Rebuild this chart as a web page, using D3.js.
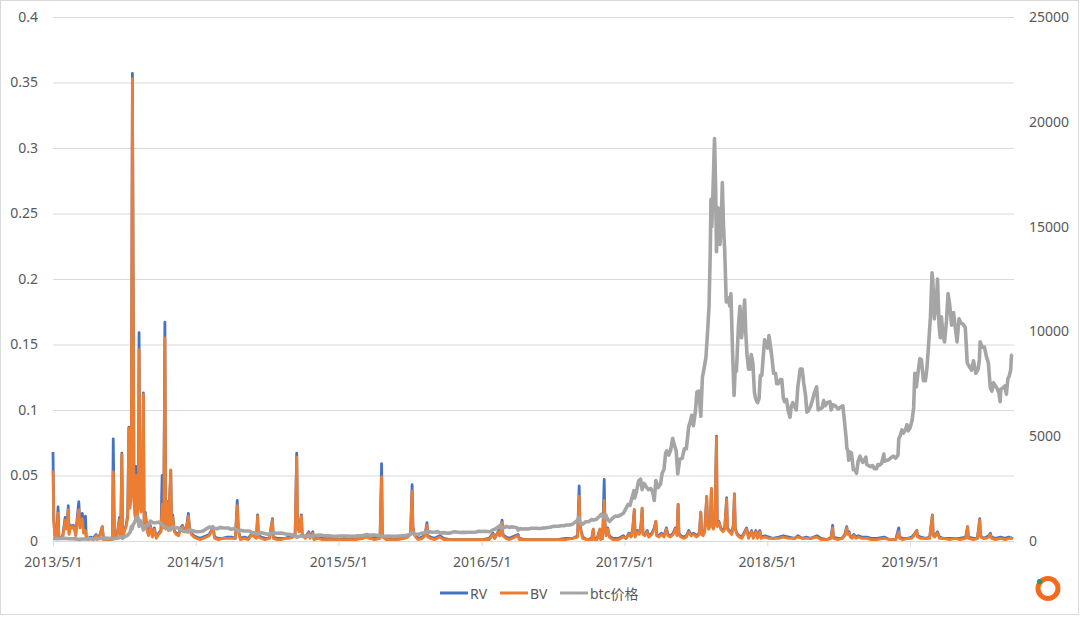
<!DOCTYPE html>
<html><head><meta charset="utf-8">
<script src="https://cdn.jsdelivr.net/npm/d3@7"></script>
<style>
body{margin:0;background:#fff;}
text{font-family:"Noto Sans","Noto Sans CJK SC",sans-serif;}
</style>
</head><body>
<svg id="chart" width="1080" height="617"></svg>
<script>
const seriesNames = ["RV", "BV", "btc价格"];
const seriesColors = ["#4472C4", "#ED7D31", "#A5A5A5"];
const leftTicks = [0, 0.05, 0.1, 0.15, 0.2, 0.25, 0.3, 0.35, 0.4];
const rightTicks = [0, 5000, 10000, 15000, 20000, 25000];
const xTickDates = ["2013-05-01","2014-05-01","2015-05-01","2016-05-01","2017-05-01","2018-05-01","2019-05-01"];

const priceDates = [
"2013-05-01","2013-05-08","2013-05-15","2013-05-22","2013-05-29","2013-06-05","2013-06-12","2013-06-19","2013-06-26","2013-07-03",
"2013-07-06","2013-07-10","2013-07-17","2013-07-24","2013-07-31","2013-08-07","2013-08-14","2013-08-21","2013-08-28","2013-09-04",
"2013-09-11","2013-09-18","2013-09-25","2013-10-02","2013-10-09","2013-10-16","2013-10-23","2013-10-30","2013-11-06","2013-11-10",
"2013-11-14","2013-11-18","2013-11-19","2013-11-22","2013-11-26","2013-11-30","2013-12-04","2013-12-07","2013-12-10","2013-12-14",
"2013-12-18","2013-12-22","2013-12-27","2013-12-31",
"2014-01-05","2014-01-12","2014-01-19","2014-01-26","2014-02-02","2014-02-09","2014-02-16","2014-02-25","2014-03-02","2014-03-09",
"2014-03-16","2014-03-23","2014-03-30","2014-04-06","2014-04-11","2014-04-16","2014-04-23","2014-04-30","2014-05-07","2014-05-14",
"2014-05-21","2014-05-28","2014-06-04","2014-06-11","2014-06-18","2014-06-25","2014-07-02","2014-07-09","2014-07-16","2014-07-23",
"2014-07-30","2014-08-06","2014-08-13","2014-08-18","2014-08-25","2014-09-01","2014-09-08","2014-09-15","2014-09-22","2014-09-29",
"2014-10-05","2014-10-12","2014-10-19","2014-10-26","2014-11-02","2014-11-09","2014-11-16","2014-11-23","2014-11-30","2014-12-07",
"2014-12-14","2014-12-21","2014-12-28",
"2015-01-04","2015-01-11","2015-01-14","2015-01-18","2015-01-25","2015-02-01","2015-02-08","2015-02-15","2015-02-22","2015-03-01",
"2015-03-08","2015-03-15","2015-03-22","2015-03-29","2015-04-05","2015-04-12","2015-04-19","2015-04-26","2015-05-03","2015-05-10",
"2015-05-17","2015-05-24","2015-05-31","2015-06-07","2015-06-14","2015-06-21","2015-06-28","2015-07-05","2015-07-12","2015-07-19",
"2015-07-26","2015-08-02","2015-08-09","2015-08-16","2015-08-23","2015-08-30","2015-09-06","2015-09-13","2015-09-20","2015-09-27",
"2015-10-04","2015-10-11","2015-10-18","2015-10-25","2015-11-01","2015-11-04","2015-11-08","2015-11-11","2015-11-15","2015-11-22",
"2015-11-29","2015-12-06","2015-12-13","2015-12-20","2015-12-27",
"2016-01-03","2016-01-10","2016-01-15","2016-01-24","2016-01-31","2016-02-07","2016-02-14","2016-02-21","2016-02-28","2016-03-06",
"2016-03-13","2016-03-20","2016-03-27","2016-04-03","2016-04-10","2016-04-17","2016-04-24","2016-05-01","2016-05-08","2016-05-15",
"2016-05-22","2016-05-29","2016-06-05","2016-06-12","2016-06-17","2016-06-22","2016-06-26","2016-07-03","2016-07-10","2016-07-17",
"2016-07-24","2016-07-31","2016-08-02","2016-08-07","2016-08-14","2016-08-21","2016-08-28","2016-09-04","2016-09-11","2016-09-18",
"2016-09-25","2016-10-02","2016-10-09","2016-10-16","2016-10-23","2016-10-30","2016-11-06","2016-11-13","2016-11-20","2016-11-27",
"2016-12-04","2016-12-11","2016-12-18","2016-12-25","2016-12-31",
"2017-01-04","2017-01-07","2017-01-11","2017-01-15","2017-01-22","2017-01-29","2017-02-05","2017-02-12","2017-02-19","2017-02-26",
"2017-03-03","2017-03-10","2017-03-14","2017-03-19","2017-03-24","2017-03-31","2017-04-07","2017-04-14","2017-04-21","2017-04-28",
"2017-05-04","2017-05-10","2017-05-15","2017-05-20","2017-05-25","2017-05-27","2017-06-01","2017-06-06","2017-06-11","2017-06-15",
"2017-06-20","2017-06-25","2017-07-01","2017-07-07","2017-07-12","2017-07-16","2017-07-20","2017-07-26","2017-08-01","2017-08-05",
"2017-08-10","2017-08-14","2017-08-17","2017-08-22","2017-08-27","2017-09-01","2017-09-05","2017-09-10","2017-09-14","2017-09-19",
"2017-09-25","2017-10-01","2017-10-06","2017-10-12","2017-10-16","2017-10-20","2017-10-24","2017-10-29","2017-11-02","2017-11-07",
"2017-11-12","2017-11-16","2017-11-20","2017-11-25","2017-11-29","2017-12-03","2017-12-06","2017-12-08","2017-12-10","2017-12-13",
"2017-12-17","2017-12-20","2017-12-22","2017-12-26","2017-12-29","2017-12-31",
"2018-01-03","2018-01-06","2018-01-09","2018-01-12","2018-01-16","2018-01-18","2018-01-21","2018-01-25","2018-01-28","2018-02-01",
"2018-02-05","2018-02-08","2018-02-11","2018-02-16","2018-02-20","2018-02-24","2018-02-28","2018-03-04","2018-03-07","2018-03-10",
"2018-03-14","2018-03-18","2018-03-21","2018-03-25","2018-03-29","2018-04-01","2018-04-06","2018-04-10","2018-04-13","2018-04-17",
"2018-04-21","2018-04-24","2018-04-28","2018-05-02","2018-05-05","2018-05-09","2018-05-13","2018-05-17","2018-05-22","2018-05-25",
"2018-05-29","2018-06-03","2018-06-07","2018-06-11","2018-06-14","2018-06-19","2018-06-24","2018-06-28","2018-07-01","2018-07-05",
"2018-07-10","2018-07-14","2018-07-18","2018-07-24","2018-07-29","2018-08-02","2018-08-07","2018-08-10","2018-08-14","2018-08-19",
"2018-08-24","2018-08-29","2018-09-04","2018-09-08","2018-09-12","2018-09-18","2018-09-22","2018-09-26","2018-10-01","2018-10-08",
"2018-10-11","2018-10-16","2018-10-22","2018-10-29","2018-11-05","2018-11-10","2018-11-14","2018-11-19","2018-11-20","2018-11-23",
"2018-11-25","2018-11-28","2018-12-02","2018-12-07","2018-12-11","2018-12-15","2018-12-19","2018-12-24","2018-12-28","2018-12-31",
"2019-01-04","2019-01-08","2019-01-10","2019-01-15","2019-01-20","2019-01-25","2019-01-30","2019-02-04","2019-02-08","2019-02-12",
"2019-02-17","2019-02-23","2019-02-24","2019-03-01","2019-03-05","2019-03-10","2019-03-15","2019-03-20","2019-03-25","2019-03-31",
"2019-04-02","2019-04-06","2019-04-10","2019-04-14","2019-04-19","2019-04-23","2019-04-26","2019-05-01","2019-05-06","2019-05-10",
"2019-05-13","2019-05-17","2019-05-21","2019-05-26","2019-05-30","2019-06-04","2019-06-09","2019-06-13","2019-06-17","2019-06-22",
"2019-06-26","2019-06-28","2019-07-02","2019-07-07","2019-07-10","2019-07-14","2019-07-17","2019-07-20","2019-07-24","2019-07-28",
"2019-08-02","2019-08-06","2019-08-10","2019-08-15","2019-08-20","2019-08-25","2019-08-29","2019-09-03","2019-09-08","2019-09-13",
"2019-09-19","2019-09-24","2019-09-30","2019-10-05","2019-10-10","2019-10-16","2019-10-22","2019-10-25","2019-10-27","2019-11-01",
"2019-11-07","2019-11-12","2019-11-17","2019-11-22","2019-11-26","2019-11-30","2019-12-05","2019-12-10","2019-12-14","2019-12-17",
"2019-12-19","2019-12-24","2019-12-29","2020-01-02","2020-01-06","2020-01-09","2020-01-13","2020-01-15","2020-01-18"
];
const priceValues = [
117,112,114,123,129,121,109,107,103,89,
68,88,97,95,106,106,97,120,129,121,
138,127,123,104,125,147,195,197,260,320,
420,700,570,780,900,1130,1150,700,980,870,
520,660,740,760,
950,870,870,900,820,680,630,530,660,630,
630,560,470,460,420,530,490,450,440,450,
490,580,660,650,610,580,650,620,620,620,
560,590,540,470,510,480,475,475,400,375,
320,390,380,350,325,360,390,370,380,375,
350,320,315,
275,270,180,210,255,225,225,235,240,260,
275,285,265,245,255,235,225,220,240,240,
237,240,230,225,233,245,250,270,310,275,
290,280,265,260,230,230,240,230,230,232,
238,246,262,285,325,400,375,310,320,323,
370,390,435,440,420,
430,448,375,400,378,375,410,438,430,405,
415,410,420,420,420,430,460,450,460,455,
440,530,575,675,750,590,630,700,650,675,
660,620,520,590,570,580,575,610,605,610,
600,612,618,640,655,700,705,705,730,730,
765,770,790,890,960,
1130,900,780,820,920,915,1020,1000,1050,1180,
1280,1100,1245,1020,940,1080,1190,1180,1240,1320,
1530,1750,1700,2050,2400,2050,2400,2870,2950,2450,
2750,2600,2450,2500,2330,1930,2880,2550,2720,3220,
3420,4200,4300,4100,4350,4900,4600,4300,3200,3900,
3930,4400,4400,5440,5700,6000,5500,6150,7100,7150,
5950,7800,8200,8750,9900,11200,13700,16300,15000,16600,
19200,16700,13800,15900,14600,14150,
15200,17100,15000,13900,11400,11500,11600,11200,11800,9100,
6950,8250,8100,10200,11200,9700,10400,11500,9900,8900,
8200,8200,8900,8500,7100,6800,6600,6800,7900,7900,
8900,9600,9400,9200,9800,9300,8700,8000,8000,7500,
7500,7700,7700,6800,6650,6750,6150,5900,6400,6600,
6400,6250,7350,8200,8200,7550,6900,6150,6200,6400,
6700,7050,7350,6250,6300,6350,6700,6450,6600,6650,
6250,6500,6450,6300,6400,6450,5750,4800,4450,4300,
3850,4250,4200,3400,3400,3230,3800,4050,3850,3750,
3850,4000,3650,3600,3550,3600,3450,3450,3650,3620,
3700,4150,3800,3850,3850,3920,4000,4050,3950,4100,
4880,5050,5300,5150,5300,5550,5250,5400,5750,6350,
8000,7350,8000,8700,8650,7650,7650,8250,9300,10700,
12800,12400,10600,11400,12500,10300,9700,10700,9800,9500,
10500,11800,11300,10300,10900,10100,9500,10600,10400,10350,
10200,8500,8300,8150,8600,8000,8200,8650,9500,9250,
9250,8800,8500,7300,7150,7550,7400,7250,7050,6650,
7250,7300,7400,7000,7750,7850,8150,8850,8900
];

const volDates = [
"2013-05-01","2013-05-03","2013-05-06","2013-05-10","2013-05-14","2013-05-16","2013-05-20","2013-05-26","2013-06-01","2013-06-03",
"2013-06-06","2013-06-09","2013-06-11","2013-06-15","2013-06-19","2013-06-22","2013-06-25","2013-06-28","2013-07-02","2013-07-06",
"2013-07-09","2013-07-12","2013-07-15","2013-07-18","2013-07-23","2013-07-25","2013-07-30","2013-08-05","2013-08-12","2013-08-19",
"2013-08-22","2013-08-28","2013-09-04","2013-09-07","2013-09-15","2013-09-22","2013-09-30","2013-10-02","2013-10-05","2013-10-12",
"2013-10-18","2013-10-21","2013-10-24","2013-10-26","2013-10-30","2013-11-04","2013-11-08","2013-11-11","2013-11-14","2013-11-17",
"2013-11-20","2013-11-24","2013-11-27","2013-11-29","2013-12-02","2013-12-05","2013-12-07","2013-12-09","2013-12-12","2013-12-15",
"2013-12-18","2013-12-20","2013-12-23","2013-12-27","2013-12-31",
"2014-01-05","2014-01-10","2014-01-15","2014-01-20","2014-01-26","2014-02-01","2014-02-04","2014-02-06","2014-02-08","2014-02-11",
"2014-02-13","2014-02-17","2014-02-20","2014-02-26","2014-02-28","2014-03-03","2014-03-07","2014-03-12","2014-03-18","2014-03-23",
"2014-03-28","2014-04-02","2014-04-07","2014-04-12","2014-04-15","2014-04-20","2014-04-26","2014-05-03","2014-05-12","2014-05-20",
"2014-05-28","2014-06-04","2014-06-10","2014-06-14","2014-06-18","2014-06-28","2014-07-08","2014-07-20","2014-08-01","2014-08-10",
"2014-08-15","2014-08-18","2014-08-23","2014-09-02","2014-09-12","2014-09-22","2014-09-28","2014-10-03","2014-10-06","2014-10-08",
"2014-10-16","2014-10-25","2014-11-05","2014-11-13","2014-11-15","2014-11-25","2014-12-05","2014-12-15","2014-12-25",
"2015-01-05","2015-01-10","2015-01-14","2015-01-16","2015-01-20","2015-01-26","2015-01-28","2015-02-05","2015-02-14","2015-02-17",
"2015-02-24","2015-02-27","2015-03-10","2015-03-20","2015-04-01","2015-04-15","2015-05-01","2015-05-15","2015-06-01","2015-06-15",
"2015-07-01","2015-07-10","2015-07-20","2015-08-01","2015-08-15","2015-08-19","2015-08-21","2015-09-01","2015-09-15","2015-10-01",
"2015-10-15","2015-10-25","2015-11-01","2015-11-05","2015-11-07","2015-11-10","2015-11-14","2015-11-20","2015-12-01","2015-12-08",
"2015-12-13","2015-12-15","2015-12-22",
"2016-01-01","2016-01-15","2016-01-25","2016-02-10","2016-03-01","2016-03-20","2016-04-10","2016-05-01","2016-05-20","2016-05-30",
"2016-06-03","2016-06-13","2016-06-16","2016-06-22","2016-06-24","2016-07-02","2016-07-10","2016-08-02","2016-08-05","2016-08-20",
"2016-09-10","2016-10-01","2016-10-20","2016-11-10","2016-12-01","2016-12-20",
"2017-01-01","2017-01-05","2017-01-07","2017-01-10","2017-01-14","2017-01-25","2017-02-06","2017-02-10","2017-02-12","2017-02-20",
"2017-02-27","2017-03-01","2017-03-06","2017-03-10","2017-03-12","2017-03-15","2017-03-19","2017-03-23","2017-04-01","2017-04-15",
"2017-04-28","2017-05-05","2017-05-12","2017-05-18","2017-05-22","2017-05-26","2017-05-28","2017-06-03","2017-06-08","2017-06-12",
"2017-06-15","2017-06-17","2017-06-22","2017-06-28","2017-07-02","2017-07-10","2017-07-16","2017-07-20","2017-07-22","2017-07-28",
"2017-08-03","2017-08-10","2017-08-16","2017-08-20","2017-08-26","2017-09-02","2017-09-08","2017-09-12","2017-09-15","2017-09-17",
"2017-09-22","2017-09-30","2017-10-06","2017-10-12","2017-10-18","2017-10-25","2017-11-01","2017-11-08","2017-11-12","2017-11-14",
"2017-11-18","2017-11-22","2017-11-27","2017-11-29","2017-12-02","2017-12-06","2017-12-09","2017-12-11","2017-12-14","2017-12-18",
"2017-12-22","2017-12-24","2017-12-28",
"2018-01-02","2018-01-08","2018-01-12","2018-01-17","2018-01-19","2018-01-24","2018-01-30","2018-02-03","2018-02-06","2018-02-08",
"2018-02-12","2018-02-18","2018-02-25","2018-03-09","2018-03-14","2018-03-22","2018-03-26","2018-04-02","2018-04-06","2018-04-12",
"2018-04-15","2018-04-25","2018-05-05","2018-05-15","2018-05-30","2018-06-11","2018-06-25","2018-07-10","2018-07-18","2018-07-30",
"2018-08-08","2018-08-20","2018-09-05","2018-09-15","2018-10-01","2018-10-11","2018-10-15","2018-10-17","2018-10-28","2018-11-08",
"2018-11-15","2018-11-20","2018-11-22","2018-11-26","2018-11-29","2018-12-04","2018-12-08","2018-12-14","2018-12-20","2018-12-28",
"2019-01-10","2019-01-22","2019-02-05","2019-02-24","2019-03-10","2019-03-25","2019-04-02","2019-04-04","2019-04-12","2019-04-25",
"2019-05-05","2019-05-11","2019-05-18","2019-05-20","2019-05-28","2019-06-10","2019-06-20","2019-06-27","2019-06-29","2019-07-03",
"2019-07-10","2019-07-15","2019-07-25","2019-08-10","2019-08-25","2019-09-05","2019-09-20","2019-09-25","2019-09-27","2019-10-10",
"2019-10-20","2019-10-26","2019-10-28","2019-11-05","2019-11-12","2019-11-18","2019-11-22","2019-11-25","2019-12-05","2019-12-18",
"2019-12-30","2020-01-08","2020-01-15","2020-01-18"
];
const rvValues = [
.068,.016,.004,.003,.026,.003,.002,.004,.018,.010,
.012,.027,.006,.012,.011,.012,.010,.005,.018,.030,
.011,.016,.021,.008,.019,.003,.002,.003,.002,.005,
.002,.004,.011,.002,.002,.001,.002,.078,.003,.005,
.018,.004,.067,.002,.008,.012,.020,.087,.030,.040,
.357,.035,.020,.057,.020,.030,.159,.040,.025,.030,
.113,.015,.022,.010,.005,
.012,.004,.010,.003,.006,.008,.050,.025,.012,.167,
.010,.030,.010,.054,.012,.020,.008,.006,.005,.010,
.012,.008,.010,.021,.010,.006,.004,.003,.002,.003,
.004,.005,.008,.011,.003,.002,.002,.003,.003,.002,
.031,.008,.002,.003,.002,.006,.004,.003,.020,.004,
.003,.002,.002,.017,.003,.002,.002,.002,.003,
.004,.006,.067,.012,.008,.020,.005,.003,.007,.003,
.007,.002,.003,.002,.002,.002,.001,.002,.001,.002,
.002,.004,.002,.002,.003,.059,.004,.002,.002,.002,
.002,.004,.006,.043,.011,.006,.004,.002,.003,.005,
.014,.004,.003,
.002,.004,.002,.001,.001,.001,.001,.001,.002,.006,
.002,.008,.004,.016,.005,.003,.002,.005,.002,.001,
.001,.001,.001,.001,.002,.002,
.004,.042,.013,.008,.003,.001,.002,.009,.002,.002,
.009,.002,.002,.047,.013,.005,.010,.004,.002,.002,
.004,.002,.006,.004,.010,.024,.004,.008,.006,.012,
.025,.006,.005,.008,.004,.006,.010,.015,.005,.004,
.006,.004,.010,.005,.004,.006,.010,.005,.028,.006,
.004,.003,.004,.008,.005,.006,.004,.006,.022,.006,
.005,.008,.034,.015,.010,.012,.040,.014,.010,.015,
.080,.012,.015,
.010,.008,.010,.033,.010,.008,.006,.012,.036,.010,
.006,.004,.003,.010,.003,.008,.003,.008,.003,.008,
.003,.004,.003,.002,.003,.004,.003,.002,.004,.002,
.003,.002,.004,.002,.001,.003,.012,.003,.002,.002,
.005,.011,.006,.007,.004,.003,.005,.003,.004,.003,
.003,.002,.002,.003,.001,.001,.010,.003,.002,.002,
.003,.005,.008,.004,.003,.002,.003,.020,.005,.004,
.007,.003,.002,.002,.002,.002,.003,.011,.003,.002,
.002,.017,.004,.002,.003,.004,.006,.003,.002,.003,
.002,.003,.002,.003
];
const bvValues = [
.054,.015,.003,.002,.021,.002,.002,.003,.016,.009,
.011,.024,.005,.011,.010,.011,.009,.004,.015,.024,
.010,.014,.017,.006,.008,.002,.001,.002,.001,.004,
.001,.003,.011,.001,.001,.001,.001,.053,.002,.004,
.016,.003,.066,.002,.007,.011,.018,.086,.025,.035,
.353,.030,.018,.050,.018,.026,.146,.035,.022,.027,
.112,.013,.020,.009,.004,
.011,.003,.009,.002,.005,.007,.028,.022,.010,.155,
.009,.029,.008,.054,.010,.018,.007,.005,.004,.009,
.011,.007,.009,.019,.009,.005,.003,.002,.001,.002,
.003,.004,.007,.010,.002,.001,.002,.002,.002,.002,
.027,.007,.001,.002,.001,.005,.003,.002,.019,.003,
.002,.001,.002,.016,.002,.001,.001,.002,.002,
.003,.005,.064,.011,.007,.019,.004,.002,.006,.002,
.006,.001,.002,.001,.001,.001,.001,.001,.001,.001,
.002,.003,.002,.001,.002,.049,.003,.001,.001,.001,
.002,.003,.005,.038,.010,.005,.003,.001,.002,.004,
.012,.003,.002,
.001,.003,.001,.001,.001,.001,.001,.001,.001,.005,
.002,.007,.004,.014,.004,.002,.001,.004,.001,.001,
.001,.001,.001,.001,.001,.002,
.003,.034,.011,.007,.002,.001,.001,.009,.001,.001,
.009,.001,.002,.031,.012,.004,.009,.003,.001,.001,
.003,.002,.005,.003,.009,.024,.003,.007,.005,.011,
.025,.005,.004,.007,.003,.005,.009,.015,.004,.003,
.005,.003,.009,.004,.003,.005,.009,.004,.028,.005,
.003,.002,.003,.007,.004,.005,.003,.005,.022,.005,
.004,.007,.034,.013,.009,.011,.040,.013,.009,.014,
.079,.011,.014,
.009,.007,.009,.032,.009,.007,.005,.011,.036,.009,
.005,.003,.002,.009,.002,.007,.002,.007,.002,.007,
.002,.003,.002,.002,.002,.003,.002,.002,.003,.002,
.002,.002,.003,.001,.001,.002,.010,.002,.001,.002,
.004,.010,.005,.006,.003,.002,.004,.002,.003,.002,
.002,.001,.001,.002,.001,.001,.007,.002,.001,.002,
.002,.004,.008,.003,.002,.002,.002,.0195,.004,.003,
.006,.002,.002,.001,.002,.001,.002,.011,.002,.001,
.002,.016,.003,.002,.002,.003,.005,.002,.001,.002,
.001,.002,.002,.002
];

const parse = d3.timeParse("%Y-%m-%d");
const svg = d3.select("#chart");
const textColor = "#595959", gridColor = "#d9d9d9";

svg.append("rect").attr("x",0.5).attr("y",0.5).attr("width",1078).attr("height",614)
  .attr("fill","#fff").attr("stroke",gridColor);

const x = d3.scaleTime().domain([parse("2013-05-01"), parse("2020-01-19")]).range([53, 1013]);
const yL = d3.scaleLinear().domain([0, 0.4]).range([541, 17]);
const yR = d3.scaleLinear().domain([0, 25000]).range([541, 17]);

// left axis + gridlines
const gL = svg.append("g").attr("transform","translate(53,0)")
  .call(d3.axisLeft(yL).tickValues(leftTicks).tickSize(-961).tickPadding(15)
    .tickFormat(d => String(+d.toFixed(2))));
gL.select(".domain").remove();
gL.selectAll("line").attr("stroke", gridColor);
gL.selectAll("text").attr("fill", textColor).style("font-size","14px");

// right axis
const gR = svg.append("g").attr("transform","translate(1013,0)")
  .call(d3.axisRight(yR).tickValues(rightTicks).tickSize(0).tickPadding(16).tickFormat(d3.format("d")));
gR.select(".domain").remove();
gR.selectAll("text").attr("fill", textColor).style("font-size","14px");

// bottom axis
const gB = svg.append("g").attr("transform","translate(0,541)")
  .call(d3.axisBottom(x).tickValues(xTickDates.map(parse)).tickSize(5).tickPadding(11)
    .tickFormat(d3.timeFormat("%Y/%-m/%-d")));
gB.select(".domain").attr("stroke", gridColor).attr("d","M53,0.5H1014");
gB.selectAll("line").attr("stroke", gridColor);
gB.selectAll("text").attr("fill", textColor).style("font-size","14px");

// series
const volData = volDates.map((d,i) => ({date: parse(d), rv: rvValues[i], bv: bvValues[i]}));
const priceData = priceDates.map((d,i) => ({date: parse(d), p: priceValues[i]}));

const lineRV = d3.line().x(d => x(d.date)).y(d => yL(d.rv));
const lineBV = d3.line().x(d => x(d.date)).y(d => yL(d.bv));
const lineP = d3.line().x(d => x(d.date)).y(d => yR(d.p));

svg.append("path").datum(volData).attr("d", lineRV).attr("fill","none")
  .attr("stroke", seriesColors[0]).attr("stroke-width",2.8).attr("stroke-linejoin","round");
svg.append("path").datum(volData).attr("d", lineBV).attr("fill","none")
  .attr("stroke", seriesColors[1]).attr("stroke-width",2.8).attr("stroke-linejoin","round");
svg.append("path").datum(priceData).attr("d", lineP).attr("fill","none")
  .attr("stroke", seriesColors[2]).attr("stroke-width",3.6).attr("stroke-linejoin","round");

// legend
const legendX = [440, 500, 560];
const lg = svg.append("g");
seriesNames.forEach((n,i) => {
  lg.append("line").attr("x1",legendX[i]).attr("x2",legendX[i]+28).attr("y1",593).attr("y2",593)
    .attr("stroke",seriesColors[i]).attr("stroke-width",3);
  lg.append("text").attr("x",legendX[i]+30).attr("y",593).attr("dominant-baseline","central")
    .attr("fill",textColor).style("font-size","14px").text(n);
});

// watermark logo
svg.append("circle").attr("cx",1048).attr("cy",588.5).attr("r",10).attr("fill","none")
  .attr("stroke","#F26A1B").attr("stroke-width",5);
svg.append("circle").attr("cx",1039.5).attr("cy",581.5).attr("r",2.6).attr("fill","#17A06E");
</script>
</body></html>
